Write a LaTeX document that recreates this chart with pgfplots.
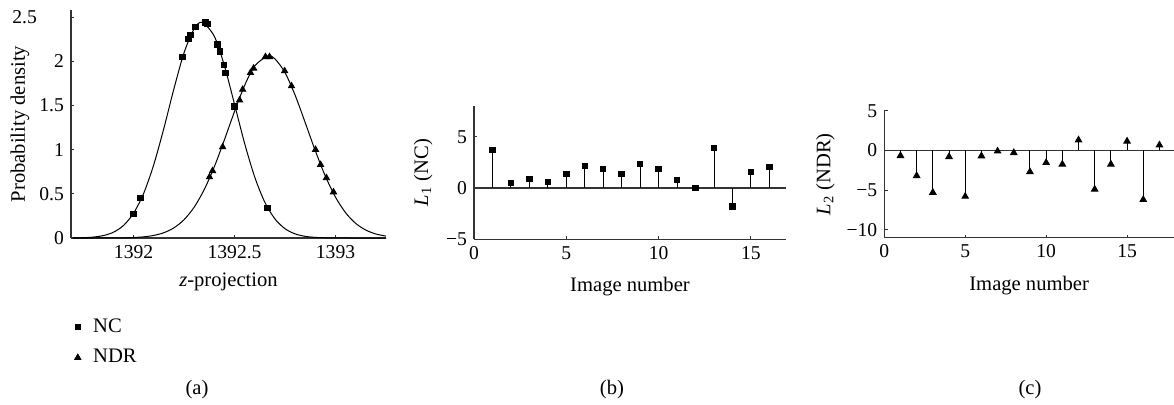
\documentclass[border=0pt]{standalone}
\usepackage{fontspec}
\setmainfont{Liberation Serif}
\usepackage{pgfplots}
\pgfplotsset{compat=1.18}

\pgfplotsset{
  panel/.style={
    scale only axis,
    anchor=south west,
    axis x line=bottom, axis y line=left,
    axis line style={-, black!80, line width=0.6pt},
    tick align=inside, major tick length=1.6pt,
    tick style={black!80, line width=0.5pt},
    font=\fontsize{10.3}{12}\selectfont,
    tick label style={font=\fontsize{9.8}{11}\selectfont},
    /pgf/number format/assume math mode=true,
    scaled ticks=false,
    clip=false,
  },
}

\begin{document}
\begin{tikzpicture}
\useasboundingbox (0,0) rectangle (587pt,202pt);

% (a) fitted densities
\begin{axis}[panel,
  at={(35.5pt,83pt)}, width=157.5pt, height=114pt,
  xmin=1391.69, xmax=1393.25, ymin=0, ymax=2.58,
  xtick={1392,1392.5,1393}, xticklabels={1392,1392.5,1393},
  ytick={0,0.5,1,1.5,2,2.5},
  yticklabels={0,0.5,1,1.5,2,{2.5\hspace*{13.5pt}}},
  ylabel={Probability density},
  xlabel={\textit{z}-projection},
  ylabel style={at={(axis description cs:-0.162,0.5)}, anchor=center},
  xlabel style={at={(axis description cs:0.5,-0.12)}},
  legend style={at={(axis description cs:0.0,-0.335)}, anchor=north west,
                draw=none, fill=none, inner sep=0pt, row sep=3pt,
                font=\fontsize{10.3}{12}\selectfont},
  legend cell align=left,
  legend image code/.code={\draw[#1] plot coordinates {(3pt,0pt)};
                           \path (0pt,0pt) (8.5pt,0pt);},
]
\addplot[black, line width=0.5pt, smooth, forget plot] coordinates {
  (1391.70,0.0012) (1391.75,0.0036) (1391.80,0.0104) (1391.85,0.0274)
  (1391.90,0.0653) (1391.95,0.1418) (1392.00,0.2808) (1392.05,0.506)
  (1392.10,0.831) (1392.15,1.242) (1392.20,1.691) (1392.25,2.097)
  (1392.30,2.368) (1392.34,2.44) (1392.40,2.281) (1392.45,1.946)
  (1392.50,1.512) (1392.55,1.069) (1392.60,0.689) (1392.65,0.404)
  (1392.70,0.216) (1392.75,0.1051) (1392.80,0.0466) (1392.85,0.0188)
  (1392.90,0.0069) (1392.95,0.0023) (1393.00,0.0006) (1393.10,0.0)
  (1393.25,0.0)
};
\addplot[black, line width=0.5pt, smooth, forget plot] coordinates {
  (1391.70,0.0) (1391.80,0.0001) (1391.90,0.0009) (1391.95,0.0023)
  (1392.00,0.0057) (1392.05,0.0133) (1392.10,0.0293) (1392.15,0.0601)
  (1392.20,0.1155) (1392.25,0.2076) (1392.30,0.349) (1392.35,0.549)
  (1392.40,0.808) (1392.45,1.113) (1392.50,1.433) (1392.55,1.727)
  (1392.60,1.947) (1392.665,2.06) (1392.70,2.027) (1392.75,1.871)
  (1392.80,1.616) (1392.85,1.305) (1392.90,0.987) (1392.95,0.698)
  (1393.00,0.462) (1393.05,0.2857) (1393.10,0.1654) (1393.15,0.0897)
  (1393.20,0.0454) (1393.25,0.0215)
};
\addplot[black, only marks, mark=square*, mark size=1.35pt] coordinates {
  (1392.000,0.275) (1392.033,0.456) (1392.241,2.05) (1392.272,2.25)
  (1392.282,2.30) (1392.307,2.39) (1392.356,2.44) (1392.366,2.42)
  (1392.416,2.19) (1392.426,2.11) (1392.446,1.96) (1392.455,1.87)
  (1392.500,1.49) (1392.662,0.34)
};
\addlegendentry{NC}
\addplot[black, only marks, mark=triangle*, mark size=1.8pt] coordinates {
  (1392.376,0.69) (1392.391,0.76) (1392.441,1.03) (1392.525,1.56)
  (1392.540,1.68) (1392.579,1.87) (1392.594,1.92) (1392.653,2.05)
  (1392.673,2.05) (1392.748,1.89) (1392.782,1.72) (1392.901,1.00)
  (1392.926,0.83) (1392.955,0.68) (1392.990,0.52)
};
\addlegendentry{NDR}
\end{axis}

% (b) L1 for NC
\begin{axis}[panel,
  at={(237pt,82.35pt)}, width=156pt, height=66.65pt,
  xmin=0, xmax=16.9, ymin=-5, ymax=8,
  xtick={0,5,10,15}, xticklabels={0,5,10,15},
  ytick={-5,0,5}, yticklabels={−5,0,5},
  xlabel={Image number},
  ylabel={{\itshape L}\textsubscript{1} (NC)},
  ylabel style={at={(axis description cs:-0.163,0.5)}, anchor=center},
  xlabel style={at={(axis description cs:0.5,-0.235)}},
]
\addplot[black!80, line width=0.6pt, forget plot] coordinates {(0,0) (16.9,0)};
\addplot[black, line width=0.5pt, ycomb, mark=square*, mark size=1.35pt,
         mark options={solid, fill=black}] coordinates {
  (1,3.73) (2,0.52) (3,0.88) (4,0.58) (5,1.39) (6,2.17) (7,1.85) (8,1.39)
  (9,2.37) (10,1.85) (11,0.78) (12,0.0) (13,3.92) (14,-1.82) (15,1.59)
  (16,2.07)
};
\end{axis}

% (c) L2 for NDR
\begin{axis}[panel,
  at={(442.15pt,83.15pt)}, width=144.85pt, height=63.5pt,
  xmin=0, xmax=17.9, ymin=-11, ymax=5,
  xtick={0,5,10,15}, xticklabels={0,5,10,15},
  ytick={-10,-5,0,5}, yticklabels={−10,−5,0,5},
  xlabel={Image number},
  ylabel={{\itshape L}\textsubscript{2} (NDR)},
  ylabel style={at={(axis description cs:-0.203,0.5)}, anchor=center},
  xlabel style={at={(axis description cs:0.5,-0.25)}},
]
\addplot[black!80, line width=0.6pt, forget plot] coordinates {(0,0) (17.9,0)};
\addplot[black, line width=0.5pt, ycomb, mark=triangle*, mark size=1.8pt,
         mark options={solid, fill=black}] coordinates {
  (1,-0.67) (2,-3.2) (3,-5.3) (4,-0.8) (5,-5.8) (6,-0.7) (7,-0.1) (8,-0.3)
  (9,-2.7) (10,-1.55) (11,-1.75) (12,1.3) (13,-4.9) (14,-1.75) (15,1.15)
  (16,-6.2) (17,0.67)
};
\end{axis}

\node[font=\fontsize{10.3}{12}\selectfont] at (98.5pt,7pt) {(a)};
\node[font=\fontsize{10.3}{12}\selectfont] at (306pt,7pt) {(b)};
\node[font=\fontsize{10.3}{12}\selectfont] at (515pt,7pt) {(c)};
\end{tikzpicture}
\end{document}
